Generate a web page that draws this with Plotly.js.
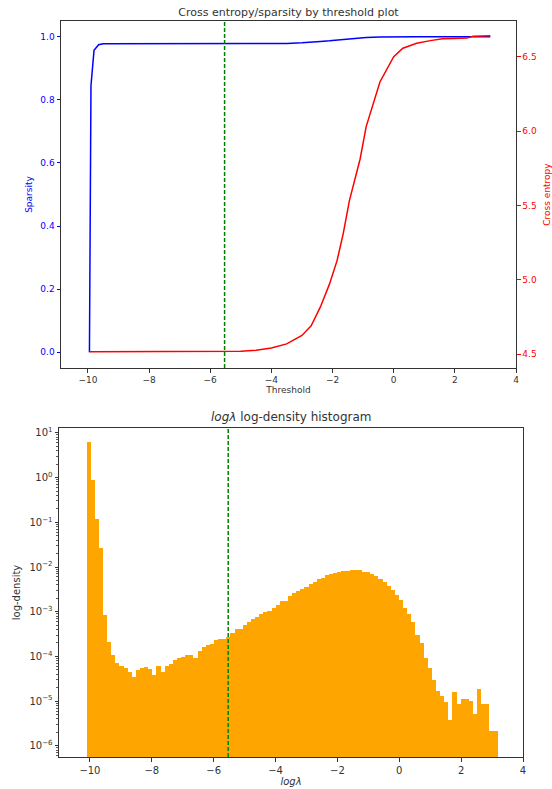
<!DOCTYPE html>
<html>
<head>
<meta charset="utf-8">
<script src="https://cdn.plot.ly/plotly-3.0.1.min.js"></script>
<style>html,body{margin:0;padding:0;background:#fff;}#chart{width:552px;height:789px;}</style>
</head>
<body>
<div id="chart"></div>
<script>
// ---- Top chart data: sparsity / cross entropy by threshold ----
const thresholds = [-9.95, -9.9, -9.8, -9.65, -9.5, -8, -6, -5, -4.5, -4, -3.5, -3, -2.7, -2.4, -2.1, -1.85, -1.65, -1.45, -1.1, -0.9, -0.45, 0, 0.3, 0.75, 1.2, 1.6, 1.95, 2.4, 2.6, 3.16];
const sparsity = [0.0, 0.845, 0.957, 0.975, 0.978, 0.978, 0.978, 0.978, 0.978, 0.978, 0.979, 0.981, 0.982, 0.985, 0.987, 0.989, 0.991, 0.993, 0.996, 0.998, 0.999, 1.0, 1.0, 1.0, 1.0, 1.0, 1.0, 1.0, 1.0, 1.0];
const crossEntropy = [4.515, 4.515, 4.515, 4.515, 4.515, 4.515, 4.516, 4.518, 4.525, 4.54, 4.568, 4.625, 4.69, 4.815, 4.97, 5.13, 5.31, 5.53, 5.81, 6.03, 6.33, 6.50, 6.557, 6.59, 6.608, 6.62, 6.622, 6.625, 6.638, 6.64];
const chosenThreshold = -5.53;

// ---- Bottom chart data: log-lambda log-density histogram (100 bins) ----
const binStart = -10.11;
const binWidth = 0.1329;
const density = [
  6.4, 0.89, 0.117, 0.027, 8.5e-4, 2.1e-4, 1.07e-4, 7.2e-5, 6.2e-5, 5.6e-5,
  4.4e-5, 3.4e-5, 5.0e-5, 5.5e-5, 5.9e-5, 5.2e-5, 3.9e-5, 6.2e-5, 4.6e-5, 6.2e-5,
  6.8e-5, 8.3e-5, 9.3e-5, 9.5e-5, 1.07e-4, 1.07e-4, 9.3e-5, 1.29e-4, 1.66e-4, 1.82e-4,
  1.86e-4, 2.34e-4, 2.4e-4, 2.45e-4, 2.7e-4, 3.3e-4, 4.1e-4, 4.2e-4, 5.0e-4, 5.75e-4,
  6.9e-4, 7.8e-4, 8.7e-4, 1.0e-3, 1.05e-3, 1.2e-3, 1.41e-3, 1.7e-3, 1.78e-3, 2.3e-3,
  2.57e-3, 2.95e-3, 3.3e-3, 3.6e-3, 4.1e-3, 4.7e-3, 5.4e-3, 5.75e-3, 6.5e-3, 6.9e-3,
  7.2e-3, 7.9e-3, 8.1e-3, 8.3e-3, 8.7e-3, 8.7e-3, 8.5e-3, 7.9e-3, 7.6e-3, 6.9e-3,
  6.2e-3, 5.4e-3, 4.7e-3, 3.8e-3, 3.1e-3, 2.4e-3, 1.82e-3, 1.2e-3, 8.7e-4, 5.75e-4,
  2.95e-4, 2.0e-4, 9.3e-5, 5.5e-5, 2.95e-5, 1.7e-5, 1.32e-5, 9.8e-6, 3.7e-6, 1.58e-5,
  8.5e-6, 1.12e-5, 1.12e-5, 1.0e-5, 5.1e-6, 1.86e-5, 8.5e-6, 8.5e-6, 2.1e-6, 2.1e-6
];
const xTicks = [-10, -8, -6, -4, -2, 0, 2, 4];
const sparsityTicks = [0, 0.2, 0.4, 0.6, 0.8, 1.0];
const ceTicks = [4.5, 5.0, 5.5, 6.0, 6.5];
const densityExponents = [-6, -5, -4, -3, -2, -1, 0, 1];

const binCenters = density.map((_, i) => binStart + (i + 0.5) * binWidth);
const densityTickVals = densityExponents.map(e => Math.pow(10, e));
const densityTickText = densityExponents.map(e => '10<sup>' + (e < 0 ? '\u2212' + (-e) : e) + '</sup>');
const minorVals = [];
for (let e = -7; e <= 1; e++) for (let d = 2; d <= 9; d++) minorVals.push(d * Math.pow(10, e));

const W = 552, H = 789;
const px = v => v / W;
const py = v => 1 - v / H;

const FONT = 'DejaVu Sans, Liberation Sans, sans-serif';
const DARK = '#333333';

const traces = [
  { type: 'scatter', mode: 'lines', x: thresholds, y: sparsity, xaxis: 'x', yaxis: 'y',
    line: { color: 'blue', width: 1.5 }, hoverinfo: 'skip' },
  { type: 'scatter', mode: 'lines', x: thresholds, y: crossEntropy, xaxis: 'x', yaxis: 'y2',
    line: { color: 'red', width: 1.5 }, hoverinfo: 'skip' },
  { type: 'bar', x: binCenters, y: density, width: binWidth, xaxis: 'x2', yaxis: 'y3',
    marker: { color: 'orange', line: { width: 0 } }, hoverinfo: 'skip' }
];

const baseAxis = {
  showgrid: false, zeroline: false, showline: true, linecolor: DARK, linewidth: 1,
  ticks: 'outside', ticklen: 3.5, tickwidth: 1, tickcolor: DARK,
  tickfont: { family: FONT, size: 9, color: DARK }
};

const layout = {
  width: W, height: H,
  margin: { l: 0, r: 0, t: 0, b: 0 },
  paper_bgcolor: 'white', plot_bgcolor: 'white',
  showlegend: false, bargap: 0,
  font: { family: FONT, size: 9, color: DARK },
  title: { text: 'Cross entropy/sparsity by threshold plot', x: 288.5 / W, xanchor: 'center',
           y: py(12), yanchor: 'middle', font: { family: FONT, size: 11, color: DARK } },
  xaxis: Object.assign({}, baseAxis, {
    domain: [px(61), px(516)], anchor: 'y', range: [-10.88, 4], tickvals: xTicks, mirror: true,
    title: { text: 'Threshold', font: { family: FONT, size: 9, color: DARK }, standoff: 2 }
  }),
  yaxis: Object.assign({}, baseAxis, {
    domain: [py(368), py(21)], anchor: 'x', range: [-0.05, 1.05], tickvals: sparsityTicks, tickformat: '.1f',
    tickcolor: 'blue', tickfont: { family: FONT, size: 9, color: 'blue' },
    title: { text: 'Sparsity', font: { family: FONT, size: 9, color: 'blue' }, standoff: 6 }
  }),
  yaxis2: Object.assign({}, baseAxis, {
    overlaying: 'y', side: 'right', anchor: 'x', range: [4.406, 6.74], tickvals: ceTicks, tickformat: '.1f',
    tickcolor: 'red', tickfont: { family: FONT, size: 9, color: 'red' },
    title: { text: 'Cross entropy', font: { family: FONT, size: 9, color: 'red' }, standoff: 7 }
  }),
  xaxis2: Object.assign({}, baseAxis, {
    domain: [px(59), px(523)], anchor: 'y3', range: [-11, 4], tickvals: xTicks, mirror: true,
    tickfont: { family: FONT, size: 10, color: DARK },
    title: { text: '<i>logλ</i>', font: { family: FONT, size: 10, color: DARK }, standoff: 2 }
  }),
  yaxis3: Object.assign({}, baseAxis, {
    domain: [py(757), py(428)], anchor: 'x2', type: 'log', range: [-6.25, 1.11],
    tickmode: 'array', tickvals: densityTickVals, ticktext: densityTickText, mirror: true,
    tickfont: { family: FONT, size: 10, color: DARK },
    minor: { tickmode: 'array', tickvals: minorVals, ticks: 'outside', ticklen: 2, tickcolor: DARK, tickwidth: 0.8 },
    title: { text: 'log-density', font: { family: FONT, size: 10, color: DARK }, standoff: 6 }
  }),
  annotations: [
    { text: '<i>logλ</i> log-density histogram', xref: 'paper', yref: 'paper', x: px(291), y: py(417),
      xanchor: 'center', yanchor: 'middle', showarrow: false, font: { family: FONT, size: 12, color: DARK } }
  ],
  shapes: [
    { type: 'line', xref: 'x', yref: 'y domain', x0: chosenThreshold, x1: chosenThreshold, y0: 0, y1: 1,
      line: { color: 'green', width: 1.5, dash: '4px,2px' } },
    { type: 'line', xref: 'x2', yref: 'y3 domain', x0: chosenThreshold, x1: chosenThreshold, y0: 0, y1: 1,
      line: { color: 'green', width: 1.5, dash: '4px,2px' } }
  ]
};

Plotly.newPlot('chart', traces, layout, { staticPlot: true, displayModeBar: false });
</script>
</body>
</html>
